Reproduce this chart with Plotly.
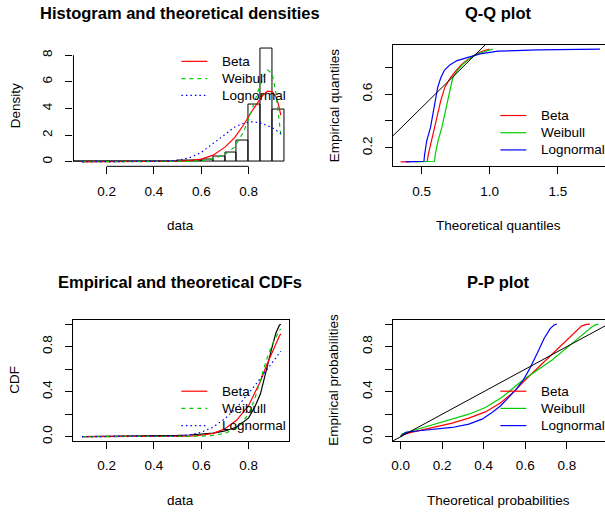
import plotly.graph_objects as go

W, H = 605, 513
FONT = "Liberation Sans, Arial, Helvetica, sans-serif"
RED, GREEN, BLUE = "#FF0000", "#00CD00", "#0000FF"
dist_names = ["Beta", "Weibull", "Lognormal"]
dist_cols = [RED, GREEN, BLUE]

# ---- histogram + densities (top left)
hist_edges = [0.05, 0.10, 0.15, 0.20, 0.25, 0.30, 0.35, 0.40, 0.45, 0.50,
              0.55, 0.60, 0.65, 0.70, 0.75, 0.80, 0.85, 0.90, 0.95]
hist_density = [0.02, 0.01, 0.01, 0.01, 0.01, 0.02, 0.02, 0.03, 0.05,
                0.08, 0.10, 0.16, 0.40, 0.70, 1.62, 4.28, 8.50, 3.95]
dens_x = [0.096, 0.30, 0.40, 0.45, 0.50, 0.55, 0.60, 0.65, 0.70, 0.74,
          0.78, 0.81, 0.84, 0.86, 0.88, 0.90, 0.915, 0.926, 0.936]
dens_beta = [0, 0, 0.005, 0.02, 0.04, 0.09, 0.2, 0.5, 1.1, 1.8,
             2.8, 3.7, 4.5, 5.0, 5.3, 5.25, 4.9, 4.3, 3.5]
dens_weibull = [0, 0, 0, 0.005, 0.01, 0.03, 0.08, 0.22, 0.55, 1.1,
                2.3, 3.7, 5.3, 6.3, 6.9, 6.6, 5.2, 3.7, 2.0]
dens_lognormal = [0, 0, 0.01, 0.04, 0.12, 0.3, 0.7, 1.35, 2.05, 2.6,
                  2.9, 3.0, 2.95, 2.85, 2.72, 2.55, 2.4, 2.25, 2.1]

# ---- Q-Q plot (top right): empirical quantiles vs theoretical quantiles
qq_empirical = [0.096, 0.10, 0.15, 0.25, 0.35, 0.45, 0.55, 0.65, 0.72,
                0.78, 0.82, 0.85, 0.88, 0.90, 0.92, 0.93, 0.936]
qq_beta = [0.346, 0.541, 0.549, 0.572, 0.597, 0.620, 0.640, 0.670, 0.710,
           0.757, 0.792, 0.830, 0.870, 0.905, 0.945, 0.975, 1.000]
qq_weibull = [0.45, 0.595, 0.600, 0.620, 0.648, 0.669, 0.689, 0.708, 0.728,
              0.765, 0.800, 0.835, 0.870, 0.910, 0.965, 1.000, 1.025]
qq_lognormal = [0.383, 0.517, 0.522, 0.537, 0.565, 0.582, 0.598, 0.618, 0.640,
                0.668, 0.710, 0.760, 0.860, 0.930, 1.060, 1.350, 1.809]

# ---- CDFs (bottom left)
cdf_x = [0.096, 0.2, 0.3, 0.4, 0.45, 0.5, 0.55, 0.6, 0.65, 0.7, 0.75,
         0.8, 0.825, 0.85, 0.875, 0.9, 0.915, 0.93, 0.936]
cdf_empirical = [0, 0.002, 0.0035, 0.006, 0.008, 0.011, 0.015, 0.021, 0.031,
                 0.051, 0.086, 0.167, 0.26, 0.381, 0.6, 0.804, 0.92, 0.99, 1.0]
cdf_beta = [0, 0, 0, 0.0005, 0.001, 0.002, 0.006, 0.013, 0.03, 0.07, 0.148,
            0.278, 0.38, 0.493, 0.63, 0.758, 0.83, 0.895, 0.914]
cdf_weibull = [0, 0, 0, 0, 0, 0.001, 0.002, 0.005, 0.012, 0.03, 0.075,
               0.2, 0.33, 0.5, 0.68, 0.82, 0.89, 0.945, 0.956]
cdf_lognormal = [0, 0, 0, 0.001, 0.002, 0.006, 0.016, 0.04, 0.085, 0.16, 0.26,
                 0.38, 0.45, 0.52, 0.59, 0.66, 0.70, 0.745, 0.759]

# ---- P-P plot (bottom right)
pp_beta_x = [0.0, 0.005, 0.056, 0.168, 0.248, 0.328, 0.408, 0.48, 0.543,
             0.592, 0.648, 0.73, 0.792, 0.84, 0.872, 0.895, 0.912]
pp_beta_y = [0.0, 0.015, 0.04, 0.085, 0.12, 0.165, 0.22, 0.30, 0.395,
             0.49, 0.59, 0.73, 0.845, 0.935, 0.985, 0.998, 1.0]
pp_weibull_x = [0.0, 0.005, 0.056, 0.168, 0.248, 0.328, 0.408, 0.488, 0.592,
                0.648, 0.728, 0.82, 0.872, 0.92, 0.94, 0.952]
pp_weibull_y = [0.0, 0.024, 0.053, 0.112, 0.156, 0.2, 0.259, 0.35, 0.508,
                0.58, 0.68, 0.82, 0.9, 0.975, 0.995, 1.0]
pp_lognormal_x = [0.0, 0.005, 0.024, 0.088, 0.168, 0.248, 0.328, 0.392, 0.44,
                  0.48, 0.52, 0.56, 0.592, 0.62, 0.66, 0.69, 0.72, 0.74, 0.752]
pp_lognormal_y = [0.0, 0.01, 0.038, 0.053, 0.068, 0.082, 0.112, 0.156, 0.215,
                  0.273, 0.35, 0.43, 0.508, 0.6, 0.75, 0.87, 0.96, 0.995, 1.0]

# tick values / labels ('' where R dropped an overlapping label)
tl_xticks, tl_xlabels = [0.2, 0.4, 0.6, 0.8], ["0.2", "0.4", "0.6", "0.8"]
tl_yticks, tl_ylabels = [0, 2, 4, 6, 8], ["0", "2", "4", "6", "8"]
tr_xticks, tr_xlabels = [0.5, 1.0, 1.5], ["0.5", "1.0", "1.5"]
tr_yticks, tr_ylabels = [0.2, 0.4, 0.6, 0.8], ["0.2", "", "0.6", ""]
bl_xticks, bl_xlabels = [0.2, 0.4, 0.6, 0.8], ["0.2", "0.4", "0.6", "0.8"]
prob_ticks, prob_labels = [0.0, 0.2, 0.4, 0.6, 0.8, 1.0], ["0.0", "", "0.4", "", "0.8", ""]
br_xticks, br_xlabels = [0.0, 0.2, 0.4, 0.6, 0.8], ["0.0", "0.2", "0.4", "0.6", "0.8"]

# axis ranges (R's 4% extension)
tl_xr, tl_yr = [0.06, 0.972], [-0.34, 8.8]
tr_xr, tr_yr = [0.29, 1.846], [0.0624, 0.9696]
bl_xr, bl_yr = [0.06, 0.972], [-0.04, 1.04]
br_xr, br_yr = [-0.037, 0.984], [-0.04, 1.04]


def fx(px):
    return px / W


def fy(py):
    return 1 - py / H


fig = go.Figure()

# histogram
centers = [(a + b) / 2 for a, b in zip(hist_edges[:-1], hist_edges[1:])]
fig.add_trace(go.Bar(x=centers, y=hist_density, width=hist_edges[1] - hist_edges[0],
                     marker=dict(color="rgba(0,0,0,0)", line=dict(color="black", width=1)),
                     xaxis="x", yaxis="y", showlegend=False))
dashes = ["solid", "4px,4px", "1.5px,3px"]
for ys, col, dsh in zip([dens_beta, dens_weibull, dens_lognormal], dist_cols, dashes):
    fig.add_trace(go.Scatter(x=dens_x, y=ys, mode="lines", line=dict(color=col, width=1.2, dash=dsh),
                             xaxis="x", yaxis="y", showlegend=False))

# Q-Q
for xs, col in zip([qq_beta, qq_weibull, qq_lognormal], dist_cols):
    fig.add_trace(go.Scatter(x=xs, y=qq_empirical, mode="lines", line=dict(color=col, width=1.2),
                             xaxis="x2", yaxis="y2", showlegend=False))
fig.add_trace(go.Scatter(x=[0, 2], y=[0, 2], mode="lines", line=dict(color="black", width=1),
                         xaxis="x2", yaxis="y2", showlegend=False))

# CDFs
fig.add_trace(go.Scatter(x=cdf_x, y=cdf_empirical, mode="lines", line=dict(color="black", width=1.2),
                         xaxis="x3", yaxis="y3", showlegend=False))
for ys, col, dsh in zip([cdf_beta, cdf_weibull, cdf_lognormal], dist_cols, dashes):
    fig.add_trace(go.Scatter(x=cdf_x, y=ys, mode="lines", line=dict(color=col, width=1.2, dash=dsh),
                             xaxis="x3", yaxis="y3", showlegend=False))

# P-P
for xs, ys, col in zip([pp_beta_x, pp_weibull_x, pp_lognormal_x],
                       [pp_beta_y, pp_weibull_y, pp_lognormal_y], dist_cols):
    fig.add_trace(go.Scatter(x=xs, y=ys, mode="lines", line=dict(color=col, width=1.2),
                             xaxis="x4", yaxis="y4", showlegend=False))
fig.add_trace(go.Scatter(x=[-0.2, 1.2], y=[-0.2, 1.2], mode="lines", line=dict(color="black", width=1),
                         xaxis="x4", yaxis="y4", showlegend=False))


def ax(domain, rng, tickvals, ticktext, anchor, line, mirror=False, angle=0, standoff=5):
    return dict(domain=domain, range=rng, tickvals=tickvals, ticktext=ticktext, anchor=anchor,
                showline=line, mirror=mirror, linecolor="black", linewidth=1,
                ticks="outside", ticklen=7, tickwidth=1, tickcolor="black",
                tickangle=angle, ticklabelstandoff=standoff,
                tickfont=dict(family=FONT, size=13.5, color="black"),
                showgrid=False, zeroline=False, fixedrange=True)


left_dom = [fx(71.7), fx(288.3)]
right_dom = [fx(392.3), 1.0]
top_dom = [fy(167.3), fy(44.8)]
bot_dom = [fy(443.8), fy(321.5)]

fig.update_layout(
    width=W, height=H, margin=dict(l=0, r=0, t=0, b=0),
    paper_bgcolor="white", plot_bgcolor="white", bargap=0,
    font=dict(family=FONT, size=13.5, color="black"),
    xaxis=ax(left_dom, tl_xr, tl_xticks, tl_xlabels, "y", False),
    yaxis=ax(top_dom, tl_yr, tl_yticks, tl_ylabels, "x", False, angle=-90, standoff=8),
    xaxis2=ax(right_dom, tr_xr, tr_xticks, tr_xlabels, "y2", True, mirror=True),
    yaxis2=ax(top_dom, tr_yr, tr_yticks, tr_ylabels, "x2", True, angle=-90, standoff=8),
    xaxis3=ax(left_dom, bl_xr, bl_xticks, bl_xlabels, "y3", True, mirror=True),
    yaxis3=ax(bot_dom, bl_yr, prob_ticks, prob_labels, "x3", True, mirror=True, angle=-90, standoff=8),
    xaxis4=ax(right_dom, br_xr, br_xticks, br_xlabels, "y4", True, mirror=True),
    yaxis4=ax(bot_dom, br_yr, prob_ticks, prob_labels, "x4", True, angle=-90, standoff=8),
)

# histogram panel has no box: R draws axis lines only between first and last tick
shapes = []
x0 = (tl_xticks[0] - tl_xr[0]) / (tl_xr[1] - tl_xr[0])
x1 = (tl_xticks[-1] - tl_xr[0]) / (tl_xr[1] - tl_xr[0])
shapes.append(dict(type="line", xref="x domain", yref="y domain", x0=x0, x1=x1, y0=0, y1=0,
                   line=dict(color="black", width=1)))
y0 = (tl_yticks[0] - tl_yr[0]) / (tl_yr[1] - tl_yr[0])
y1 = (tl_yticks[-1] - tl_yr[0]) / (tl_yr[1] - tl_yr[0])
shapes.append(dict(type="line", xref="x domain", yref="y domain", x0=0, x1=0, y0=y0, y1=y1,
                   line=dict(color="black", width=1)))

annotations = []


def text(s, px, py, size=13.5, bold=False, angle=0, xanchor="center"):
    annotations.append(dict(text=s, x=fx(px), y=fy(py), xref="paper", yref="paper",
                            xanchor=xanchor, yanchor="middle", showarrow=False, textangle=angle,
                            font=dict(family=FONT, size=size, color="black",
                                      weight="bold" if bold else "normal")))


# panel titles
text("Histogram and theoretical densities", 179, 13, size=16.5, bold=True)
text("Q-Q plot", 498, 13, size=16.5, bold=True)
text("Empirical and theoretical CDFs", 179, 284, size=16.5, bold=True)
text("P-P plot", 498, 284, size=16.5, bold=True)

# axis titles
text("data", 179, 227)
text("Density", 13, 106, angle=-90)
text("Theoretical quantiles", 498, 227)
text("Empirical quantiles", 333, 106, angle=-90)
text("data", 179, 503)
text("CDF", 13, 382, angle=-90)
text("Theoretical probabilities", 498, 503)
text("Empirical probabilities", 333, 382, angle=-90)


# legends (no box, R style: short line sample then label)
def legend(left, rows, styles):
    for name, col, dsh, ry in zip(dist_names, dist_cols, styles, rows):
        shapes.append(dict(type="line", xref="paper", yref="paper",
                           x0=fx(left), x1=fx(left + 26), y0=fy(ry), y1=fy(ry),
                           line=dict(color=col, width=1.2, dash=dsh)))
        text(name, left + 39, ry, xanchor="left")


legend(180, [61.7, 79.0, 95.9], dashes)
legend(500, [116.2, 133.5, 150.8], ["solid"] * 3)
legend(180, [393.5, 410.8, 428.1], dashes)
legend(500, [393.5, 410.8, 428.1], ["solid"] * 3)

fig.update_layout(shapes=shapes, annotations=annotations)
# the page body keeps an 8px default margin; drop it so the figure fills the window
fig.write_html("out.html", config={"displayModeBar": False},
               post_script="document.body.style.margin='0';")
